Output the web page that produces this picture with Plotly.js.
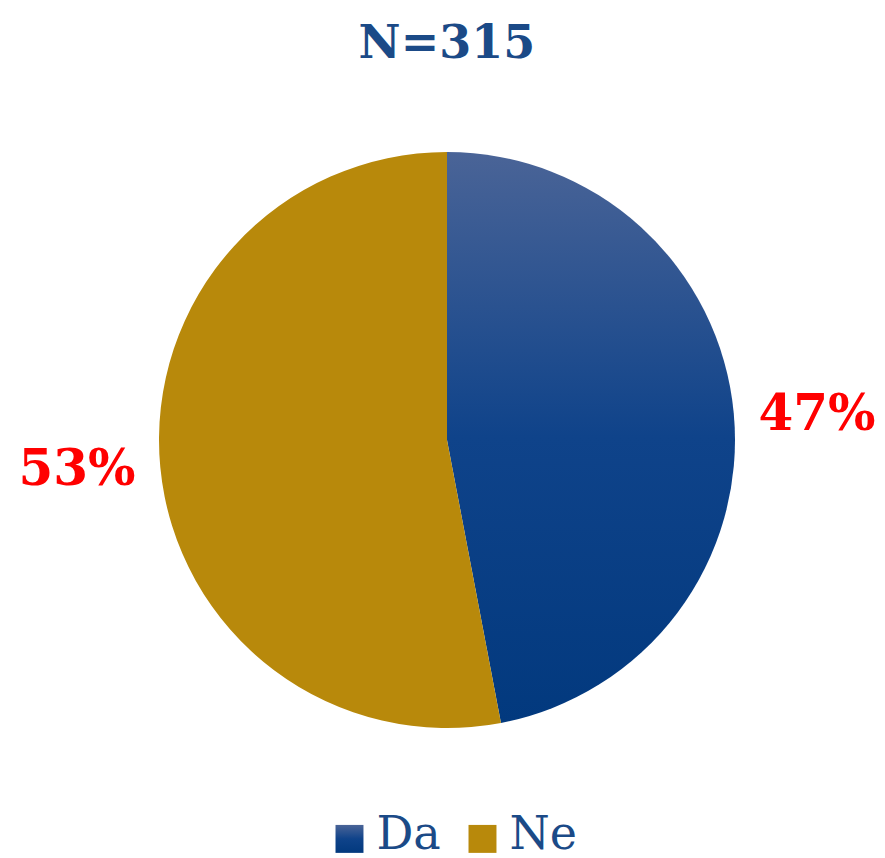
<!DOCTYPE html>
<html>
<head>
<meta charset="utf-8">
<script src="https://cdn.plot.ly/plotly-3.0.1.min.js"></script>
<style>
  html, body { margin: 0; padding: 0; background: #fff; }
  #chart { width: 885px; height: 858px; }
</style>
</head>
<body>
<div id="chart"></div>
<script>
// Survey answers, N=315
const categories = ['Da', 'Ne'];
const shares = [47, 53];
const sliceColors = ['#1E4A8A', '#B8890B'];
const titleText = 'N=315';

const trace = {
  type: 'pie',
  labels: categories,
  values: shares,
  sort: false,
  direction: 'clockwise',
  rotation: 0,
  texttemplate: '\u2009%{value}%\u2009',
  textposition: 'outside',
  outsidetextfont: { family: 'DejaVu Serif', size: 50, color: '#FF0000', weight: 'bold' },
  marker: { colors: sliceColors, line: { width: 0 } },
  automargin: false,
  hoverinfo: 'none',
  domain: { x: [159 / 885, 735 / 885], y: [1 - 728 / 858, 1 - 152 / 858] }
};

const layout = {
  width: 885,
  height: 858,
  margin: { l: 0, r: 0, t: 0, b: 0, autoexpand: false },
  paper_bgcolor: '#ffffff',
  title: {
    text: '<b>' + titleText + '</b>',
    font: { family: 'DejaVu Serif', size: 46, color: '#1B4A87' },
    x: 0.505, xanchor: 'center',
    y: 1 - 42 / 858, yanchor: 'middle'
  },
  showlegend: true,
  legend: {
    orientation: 'h',
    x: 0.5305, xanchor: 'center',
    y: 1 - 831 / 858, yanchor: 'middle',
    font: { family: 'DejaVu Serif', size: 46, color: '#1B4A87' },
    itemwidth: 30,
    entrywidth: 88,
    entrywidthmode: 'pixels'
  }
};

Plotly.newPlot('chart', [trace], layout, { displayModeBar: false, staticPlot: true }).then(gd => {
  // vertical gradient on the "Da" slice, like the original
  const svg = gd.querySelector('svg.main-svg');
  const ns = 'http://www.w3.org/2000/svg';
  let defs = svg.querySelector('defs');
  if (!defs) { defs = document.createElementNS(ns, 'defs'); svg.prepend(defs); }
  const grad = document.createElementNS(ns, 'linearGradient');
  grad.setAttribute('id', 'daGrad');
  grad.setAttribute('x1', '0'); grad.setAttribute('y1', '0');
  grad.setAttribute('x2', '0'); grad.setAttribute('y2', '1');
  [['0', '#4A6497'], ['0.5', '#0F438A'], ['1', '#02397E']].forEach(([o, c]) => {
    const s = document.createElementNS(ns, 'stop');
    s.setAttribute('offset', o); s.setAttribute('stop-color', c);
    grad.appendChild(s);
  });
  defs.appendChild(grad);

  const slices = gd.querySelectorAll('.slice path.surface');
  if (slices[0]) slices[0].style.fill = 'url(#daGrad)';

  // bigger legend swatches, nearer the text; drop the legend clip so they are not cut
  const box = gd.querySelector('.legend .scrollbox');
  if (box) box.removeAttribute('clip-path');
  gd.querySelectorAll('.legend .legendpoints path').forEach((p, i) => {
    p.setAttribute('transform', 'translate(13,8) scale(2.33)');
    if (i === 0) p.style.fill = 'url(#daGrad)';
  });
});
</script>
</body>
</html>
